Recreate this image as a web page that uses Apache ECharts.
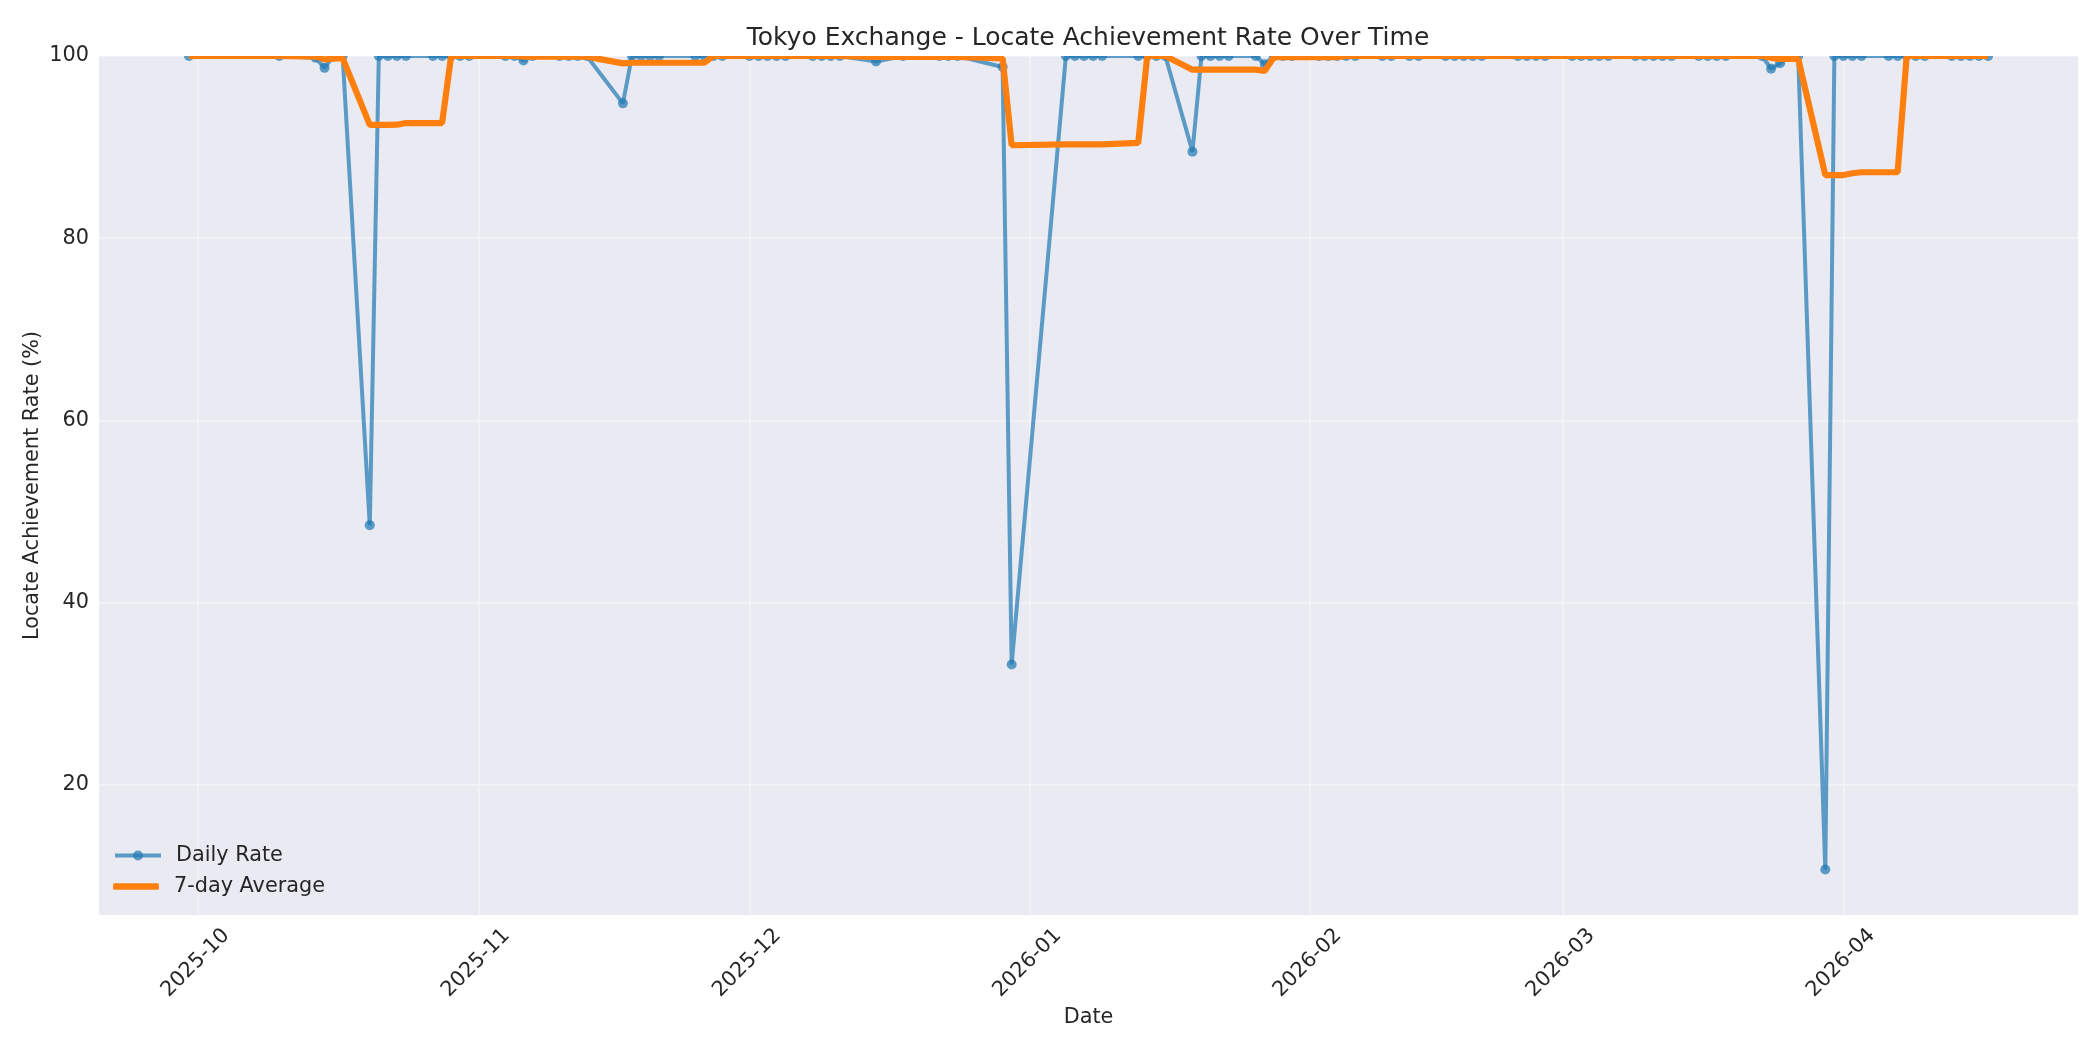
<!DOCTYPE html>
<html>
<head>
<meta charset="utf-8">
<script src="https://cdn.jsdelivr.net/npm/echarts@6/dist/echarts.min.js"></script>
<style>
html,body{margin:0;padding:0;background:#ffffff;}
#chart{width:2100px;height:1050px;}
</style>
</head>
<body>
<div id="chart"></div>
<script>
// ---- data ----
const dates = [
  '2025-09-30','2025-10-10','2025-10-14','2025-10-15','2025-10-16','2025-10-17',
  '2025-10-20','2025-10-21','2025-10-22','2025-10-23','2025-10-24',
  '2025-10-27','2025-10-28','2025-10-29','2025-10-30','2025-10-31',
  '2025-11-04','2025-11-05','2025-11-06','2025-11-07',
  '2025-11-10','2025-11-11','2025-11-12','2025-11-13',
  '2025-11-17','2025-11-18','2025-11-19','2025-11-20','2025-11-21',
  '2025-11-25','2025-11-26','2025-11-27','2025-11-28',
  '2025-12-01','2025-12-02','2025-12-03','2025-12-04','2025-12-05',
  '2025-12-08','2025-12-09','2025-12-10','2025-12-11',
  '2025-12-15','2025-12-18',
  '2025-12-22','2025-12-23','2025-12-24',
  '2025-12-29','2025-12-30',
  '2026-01-05','2026-01-06','2026-01-07','2026-01-08','2026-01-09',
  '2026-01-13','2026-01-14','2026-01-15','2026-01-16',
  '2026-01-19','2026-01-20','2026-01-21','2026-01-22','2026-01-23',
  '2026-01-26','2026-01-27','2026-01-28','2026-01-29','2026-01-30',
  '2026-02-02','2026-02-03','2026-02-04','2026-02-05','2026-02-06',
  '2026-02-09','2026-02-10','2026-02-12','2026-02-13',
  '2026-02-16','2026-02-17','2026-02-18','2026-02-19','2026-02-20',
  '2026-02-24','2026-02-25','2026-02-26','2026-02-27',
  '2026-03-02','2026-03-03','2026-03-04','2026-03-05','2026-03-06',
  '2026-03-09','2026-03-10','2026-03-11','2026-03-12','2026-03-13',
  '2026-03-16','2026-03-17','2026-03-18','2026-03-19',
  '2026-03-23','2026-03-24','2026-03-25','2026-03-26','2026-03-27',
  '2026-03-30','2026-03-31','2026-04-01','2026-04-02','2026-04-03',
  '2026-04-06','2026-04-07','2026-04-08','2026-04-09','2026-04-10',
  '2026-04-13','2026-04-14','2026-04-15','2026-04-16','2026-04-17'
];

const dailyRate = [
  100, 100, 99.8, 98.7, 100, 100,
  48.5, 100, 100, 100, 100,
  100, 100, 100, 100, 100,
  100, 100, 99.5, 100,
  100, 100, 100, 100,
  94.8, 100, 100, 100, 100,
  100, 100, 100, 100,
  100, 100, 100, 100, 100,
  100, 100, 100, 100,
  99.4, 100,
  100, 100, 100,
  98.8, 33.2,
  100, 100, 100, 100, 100,
  100, 100, 100, 100,
  89.5, 100, 100, 100, 100,
  100, 99.1, 100, 100, 100,
  100, 100, 100, 100, 100,
  100, 100, 100, 100,
  100, 100, 100, 100, 100,
  100, 100, 100, 100,
  100, 100, 100, 100, 100,
  100, 100, 100, 100, 100,
  100, 100, 100, 100,
  100, 98.6, 99.2, 100, 100,
  10.7, 100, 100, 100, 100,
  100, 100, 100, 100, 100,
  100, 100, 100, 100, 100
];

const avg7Day = [
  100, 100, 99.93, 99.63, 99.7, 99.75,
  92.43, 92.43, 92.43, 92.46, 92.64,
  92.64, 92.64, 100, 100, 100,
  100, 100, 99.93, 99.93,
  99.93, 99.93, 99.93, 99.93,
  99.19, 99.26, 99.26, 99.26, 99.26,
  99.26, 99.26, 100, 100,
  100, 100, 100, 100, 100,
  100, 100, 100, 100,
  99.91, 99.91,
  99.91, 99.91, 99.91,
  99.74, 90.2,
  90.29, 90.29, 90.29, 90.29, 90.29,
  90.46, 100, 100, 100,
  98.5, 98.5, 98.5, 98.5, 98.5,
  98.5, 98.37, 99.87, 99.87, 99.87,
  99.87, 99.87, 99.87, 100, 100,
  100, 100, 100, 100,
  100, 100, 100, 100, 100,
  100, 100, 100, 100,
  100, 100, 100, 100, 100,
  100, 100, 100, 100, 100,
  100, 100, 100, 100,
  100, 99.8, 99.69, 99.69, 99.69,
  86.93, 86.93, 86.93, 87.13, 87.24,
  87.24, 87.24, 100, 100, 100,
  100, 100, 100, 100, 100
];

const xTickLabels = ['2025-10','2025-11','2025-12','2026-01','2026-02','2026-03','2026-04'];
const yTickValues = [20, 40, 60, 80, 100];

// ---- helpers ----
function ts(s) {
  const p = s.split(/[-T:]/).map(Number);
  return Date.UTC(p[0], p[1] - 1, p[2] || 1, p[3] || 0, p[4] || 0);
}
const monthTicks = xTickLabels.map(ts);
const labelByTs = {};
xTickLabels.forEach(function (l, i) { labelByTs[monthTicks[i]] = l; });

const dailyData = dates.map(function (d, i) { return [ts(d), dailyRate[i]]; });
const avgData = dates.map(function (d, i) { return [ts(d), avg7Day[i]]; });

const FONT = 'DejaVu Sans';
const TXT = '#262626';
const GRID_LINE = '#F3F3F7';
const BLUE = '#1f77b4';
const ORANGE = '#ff7f0e';

const chart = echarts.init(document.getElementById('chart'), null, { renderer: 'canvas' });

const option = {
  animation: false,
  backgroundColor: '#ffffff',
  textStyle: { fontFamily: FONT, color: TXT },
  title: {
    text: 'Tokyo Exchange - Locate Achievement Rate Over Time',
    left: 1083,
    textAlign: 'center',
    top: 21,
    textStyle: { fontFamily: FONT, fontSize: 25, fontWeight: 'normal', color: TXT }
  },
  grid: {
    left: 99, right: 22, top: 56, bottom: 135,
    show: true, backgroundColor: '#EAEAF2', borderWidth: 0
  },
  legend: [
    {
      orient: 'vertical',
      left: 113,
      top: 845,
      padding: 0,
      itemWidth: 46,
      itemHeight: 12.5,
      data: ['Daily Rate'],
      lineStyle: { width: 4, opacity: 0.7 },
      itemStyle: { opacity: 0.7 },
      textStyle: { fontFamily: FONT, fontSize: 20.8, color: TXT, padding: [0, 0, 0, 10] }
    },
    {
      orient: 'vertical',
      left: 113,
      top: 876,
      padding: 0,
      itemWidth: 46,
      itemHeight: 6.5,
      data: [{ name: '7-day Average', icon: 'roundRect' }],
      textStyle: { fontFamily: FONT, fontSize: 20.8, color: TXT, padding: [0, 0, 0, 10] }
    }
  ],
  xAxis: {
    type: 'value',
    min: ts('2025-09-20T01:12'),
    max: ts('2026-04-26T22:48'),
    name: 'Date',
    nameLocation: 'middle',
    nameGap: 92,
    nameMoveOverlap: false,
    nameTextStyle: { fontFamily: FONT, fontSize: 20.8, color: TXT },
    axisLine: { show: false },
    axisTick: { show: false, customValues: monthTicks },
    axisLabel: {
      customValues: monthTicks,
      formatter: function (v) { return labelByTs[v] || ''; },
      rotate: 45,
      margin: -11,
      verticalAlign: 'top',
      lineHeight: 80,
      fontFamily: FONT, fontSize: 20.8, color: TXT
    },
    splitLine: { show: true, lineStyle: { color: GRID_LINE, width: 1.5 } }
  },
  yAxis: {
    type: 'value',
    min: 5.7,
    max: 100,
    name: 'Locate Achievement Rate (%)',
    nameLocation: 'middle',
    nameGap: 56,
    nameMoveOverlap: false,
    nameTextStyle: { fontFamily: FONT, fontSize: 20.8, color: TXT },
    axisLine: { show: false },
    axisTick: { show: false, customValues: yTickValues },
    axisLabel: {
      customValues: yTickValues,
      margin: 10,
      fontFamily: FONT, fontSize: 20.8, color: TXT
    },
    splitLine: { show: true, lineStyle: { color: GRID_LINE, width: 1.5 } }
  },
  graphic: [{
    type: 'rect',
    z: 5,
    silent: true,
    shape: { x: 96, y: 0, width: 2004, height: 56 },
    style: { fill: '#ffffff' }
  }],
  series: [
    {
      name: 'Daily Rate',
      type: 'line',
      data: dailyData,
      symbol: 'circle',
      symbolSize: 10,
      showAllSymbol: true,
      color: BLUE,
      lineStyle: { color: BLUE, width: 4, opacity: 0.7 },
      itemStyle: { color: BLUE, opacity: 0.7 },
      emphasis: { disabled: true },
      z: 2
    },
    {
      name: '7-day Average',
      type: 'line',
      data: avgData,
      symbol: 'none',
      showSymbol: false,
      color: ORANGE,
      lineStyle: { color: ORANGE, width: 6.2 },
      itemStyle: { color: ORANGE },
      emphasis: { disabled: true },
      z: 3
    }
  ]
};

chart.setOption(option);
</script>
</body>
</html>
